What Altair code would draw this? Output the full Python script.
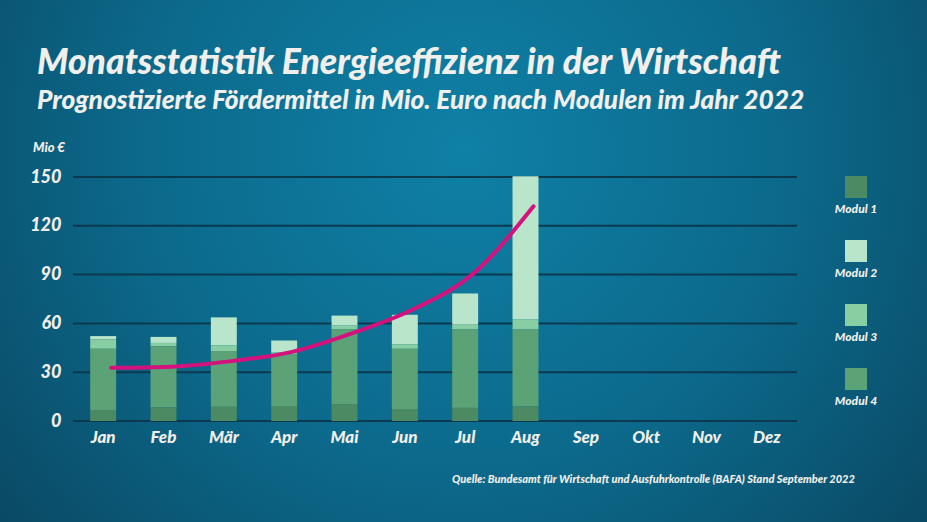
import altair as alt
import pandas as pd

# ---------------- data ----------------
months = ["Jan", "Feb", "Mär", "Apr", "Mai", "Jun", "Jul", "Aug", "Sep", "Okt", "Nov", "Dez"]
data_months = ["Jan", "Feb", "Mär", "Apr", "Mai", "Jun", "Jul", "Aug"]
modul_1 = [6.8, 8.4, 8.8, 9.2, 10.4, 7.4, 8.2, 9.0]
modul_2 = [2.0, 3.7, 17.2, 7.2, 6.1, 18.2, 19.2, 88.1]
modul_3 = [5.8, 2.0, 3.5, 1.4, 2.3, 2.7, 2.9, 6.1]
modul_4 = [37.6, 37.6, 34.2, 31.7, 46.0, 37.0, 48.1, 47.3]
trend = [32.7, 33.4, 36.8, 42.5, 54.0, 68.5, 90.5, 132.0]
moduls = ["Modul 1", "Modul 2", "Modul 3", "Modul 4"]
stack_rank = [0, 3, 2, 1]  # Modul 1 bottom, then 4, 3, 2 on top
colors = ["#4b8a62", "#b9e5cb", "#87cfa3", "#5ba377"]
y_ticks = [0, 30, 60, 90, 120, 150]

title = "Monatsstatistik Energieeffizienz in der Wirtschaft"
subtitle = "Prognostizierte Fördermittel in Mio. Euro nach Modulen im Jahr 2022"
unit = "Mio €"
source = "Quelle: Bundesamt für Wirtschaft und Ausfuhrkontrolle (BAFA) Stand September 2022"

# ---------------- tables ----------------
rows = []
for name, vals, rank in zip(moduls, [modul_1, modul_2, modul_3, modul_4], stack_rank):
    for m, v in zip(data_months, vals):
        rows.append({"month": m, "modul": name, "value": v, "rank": rank})
bars_df = pd.DataFrame(rows)
trend_df = pd.DataFrame({"month": data_months, "trend": trend})
legend_df = pd.DataFrame({"modul": moduls})
grid_df = pd.DataFrame({"tick": y_ticks})
one = pd.DataFrame({"k": [0]})

FONT = "Lato"
TXT = "#f1efeb"
W, H = 724, 244
PL, PT, PR, PB = 73, 177, 130, 101

x_scale = alt.Scale(domain=months, paddingInner=0.57, paddingOuter=0.285)
y_scale = alt.Scale(domain=[0, 150], nice=False, zero=True)
color_scale = alt.Scale(domain=moduls, range=colors)

bg = alt.Chart(one).mark_rect(
    fill={
        "gradient": "radial",
        "x1": 0.5, "y1": 0.38, "r1": 0.0,
        "x2": 0.5, "y2": 0.38, "r2": 0.75,
        "stops": [
            {"offset": 0.0, "color": "#0f80a6"},
            {"offset": 0.45, "color": "#0c6a8c"},
            {"offset": 1.0, "color": "#093e57"},
        ],
    }
).encode(
    x=alt.value(-PL), x2=alt.value(W + PR),
    y=alt.value(-PT), y2=alt.value(H + PB),
)

grid = alt.Chart(grid_df).mark_rule(color="#0b3a50", strokeWidth=2).encode(
    y=alt.Y("tick:Q", scale=y_scale, axis=None),
    x=alt.value(0), x2=alt.value(W),
)

bars = alt.Chart(bars_df).mark_bar().encode(
    x=alt.X("month:N", scale=x_scale, sort=months,
            axis=alt.Axis(title=None, labelAngle=0, labelFont=FONT, labelFontSize=17,
                          labelFontWeight=900, labelFontStyle="italic", labelColor=TXT,
                          labelPadding=8, ticks=False, domain=False, grid=False, zindex=1)),
    y=alt.Y("value:Q", stack="zero", scale=y_scale,
            axis=alt.Axis(values=y_ticks, title=None, labelFont=FONT, labelFontSize=18,
                          labelFontWeight=900, labelFontStyle="italic", labelColor=TXT,
                          labelPadding=12, ticks=False, domain=False, grid=False, zindex=1)),
    color=alt.Color("modul:N", scale=color_scale, legend=None),
    order=alt.Order("rank:Q", sort="ascending"),
)

line = alt.Chart(trend_df).mark_line(
    color="#d4127e", strokeWidth=4, interpolate="monotone", strokeCap="round", xOffset=8
).encode(
    x=alt.X("month:N", scale=x_scale, sort=months),
    y=alt.Y("trend:Q", scale=y_scale, axis=None),
)

leg_y = alt.Y("modul:N", scale=alt.Scale(type="point", domain=moduls, range=[10, 202], padding=0), axis=None)
leg_sq = alt.Chart(legend_df).mark_square(size=484, opacity=1).encode(
    x=alt.value(783), y=leg_y,
    color=alt.Color("modul:N", scale=color_scale, legend=None),
)
leg_tx = alt.Chart(legend_df).mark_text(
    font=FONT, fontSize=12, fontWeight=900, fontStyle="italic", color=TXT, dy=22, baseline="middle"
).encode(x=alt.value(783), y=leg_y, text="modul:N")


def label(txt, x, y, size):
    return alt.Chart(one).mark_text(
        text=txt, font=FONT, fontSize=size, fontWeight=900, fontStyle="italic",
        color=TXT, align="left", baseline="alphabetic"
    ).encode(x=alt.value(x), y=alt.value(y))


texts = [
    label(title, -36, -103, 35.5),
    label(subtitle, -36, -68, 26.3),
    label(unit, -40, -25, 13),
    label(source, 379, 306, 11),
]

chart = alt.layer(bg, grid, bars, line, leg_sq, leg_tx, *texts).resolve_scale(
    y="independent"
).properties(
    width=W, height=H,
    autosize=alt.AutoSizeParams(type="none"),
    padding={"left": PL, "top": PT, "right": PR, "bottom": PB},
    background="#0b4f6c",
).configure_view(stroke=None)

chart.save("out.html", embed_options={"renderer": "svg", "actions": False})
